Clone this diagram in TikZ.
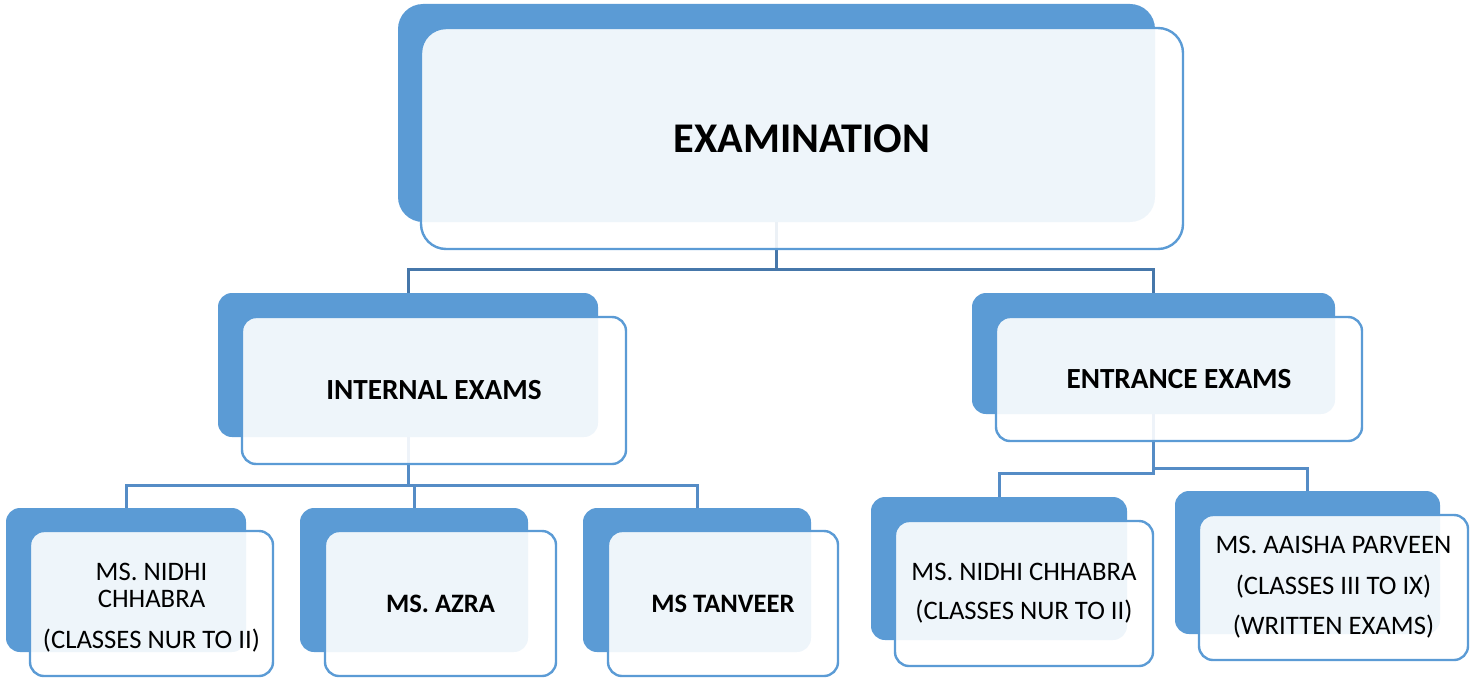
\documentclass[tikz,border=0pt]{standalone}
\usepackage{fontspec}
\setmainfont{Carlito}
\definecolor{boxblue}{HTML}{5B9BD5}
\definecolor{conndark}{HTML}{4677AA}
\definecolor{connlight}{HTML}{558CC6}
\begin{document}
\begin{tikzpicture}[x=1pt,y=-1pt,
  backbox/.style={fill=boxblue, draw=none, rounded corners=14pt, anchor=north west, inner sep=0pt, outer sep=0pt},
  frontbox/.style={fill=white, fill opacity=0.9, draw=boxblue, draw opacity=1, text opacity=1, line width=2.4pt, rounded corners=14pt, anchor=north west, inner sep=0pt, outer sep=0pt, align=center, text=black},
  boxtext/.style={align=center, text=black, inner sep=0pt},
  conn/.style={line width=3pt, color=connlight},
  conntop/.style={line width=3pt, color=conndark},
  lvlone/.style={font=\fontsize{42.3}{48}\selectfont\bfseries},
  lvltwo/.style={font=\fontsize{29.2}{34}\selectfont\bfseries},
  lvlthreeb/.style={font=\fontsize{26.6}{31}\selectfont\bfseries},
]
\useasboundingbox (0,0) rectangle (1474,677);
% back boxes
\node[backbox, rounded corners=25pt, minimum width=757pt, minimum height=218pt] (topB) at (398,4) {};
\node[backbox, minimum width=380pt, minimum height=144pt] (intB) at (218,293) {};
\node[backbox, minimum width=363pt, minimum height=121pt] (entB) at (972,293) {};
\node[backbox, minimum width=240pt, minimum height=144pt] (nidB) at (6,508) {};
\node[backbox, minimum width=228pt, minimum height=144pt] (azrB) at (300,508) {};
\node[backbox, minimum width=228pt, minimum height=144pt] (tanB) at (583,508) {};
\node[backbox, minimum width=256pt, minimum height=143pt] (nidtB) at (871,497) {};
\node[backbox, minimum width=265pt, minimum height=143pt] (aaiB) at (1175,491) {};
% connectors
\draw[conntop] (topB.south) -- ++(0,47) -| (intB.north);
\draw[conntop] (topB.south) -- ++(0,47) -| (entB.north);
\draw[conn] (intB.south) -- ++(0,48) -| (nidB.north);
\draw[conn] (intB.south) -- ++(0,48) -| (azrB.north);
\draw[conn] (intB.south) -- ++(0,48) -| (tanB.north);
\draw[conn] (entB.south) -- ++(0,59) -| (nidtB.north);
\draw[conn] (entB.south) -- ++(0,54) -| (aaiB.north);
% front boxes
\node[frontbox, rounded corners=25pt, minimum width=762pt, minimum height=221pt, lvlone] (topF) at (421,28) {EXAMINATION};
\node[frontbox, minimum width=384pt, minimum height=147pt, lvltwo] (intF) at (242,317) {INTERNAL EXAMS};
\node[frontbox, minimum width=366pt, minimum height=124pt, lvltwo] (entF) at (996,317) {ENTRANCE EXAMS};
\node[frontbox, minimum width=243pt, minimum height=145pt] (nidF) at (30,531) {};
\node[boxtext, font=\fontsize{26.7}{27}\selectfont] (nidT) at ([yshift=-4pt]nidF.center) {MS. NIDHI\\CHHABRA\\[13.5pt](CLASSES NUR TO II)};
\node[frontbox, minimum width=231pt, minimum height=145pt, lvlthreeb] (azrF) at (325,531) {MS. AZRA};
\node[frontbox, minimum width=230pt, minimum height=145pt, lvlthreeb] (tanF) at (608,531) {MS TANVEER};
\node[frontbox, minimum width=258pt, minimum height=145pt, font=\fontsize{26.7}{39}\selectfont] (nidtF) at (895,521) {MS. NIDHI CHHABRA\\(CLASSES NUR TO II)};
\node[frontbox, minimum width=269pt, minimum height=145pt, font=\fontsize{26.7}{40.5}\selectfont] (aaiF) at (1199,515) {MS. AAISHA PARVEEN\\(CLASSES III TO IX)\\(WRITTEN EXAMS)};
\end{tikzpicture}
\end{document}
